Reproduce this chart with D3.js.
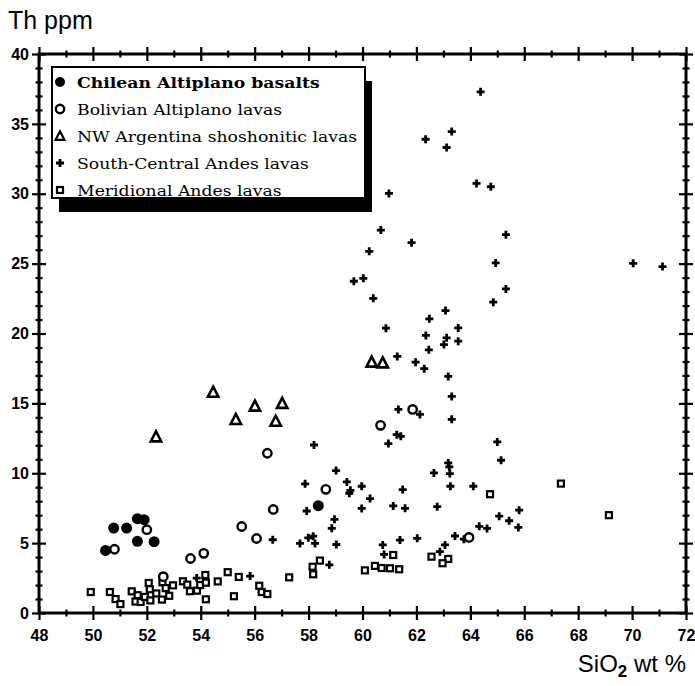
<!DOCTYPE html>
<html>
<head>
<meta charset="utf-8">
<script src="https://cdn.jsdelivr.net/npm/d3@7"></script>
<style>
  body { margin: 0; background: #fff; }
  svg { display: block; }
</style>
</head>
<body>
<div id="chart"></div>
<script>
// values: [SiO2 wt %, Th ppm]
const chilean = [
  [50.47, 4.48], [50.77, 6.08], [51.25, 6.08], [51.65, 6.75], [51.9, 6.68],
  [51.65, 5.13], [52.27, 5.1], [58.36, 7.68]
];
const bolivian = [
  [50.8, 4.56], [52.0, 5.96], [52.61, 2.6], [53.62, 3.9], [54.11, 4.27],
  [55.52, 6.19], [56.07, 5.33], [56.47, 11.43], [56.69, 7.41], [58.64, 8.85],
  [60.67, 13.43], [61.86, 14.57], [63.95, 5.41]
];
const nwArgentina = [
  [52.34, 12.6], [54.46, 15.8], [55.3, 13.85], [56.01, 14.8], [56.78, 13.72],
  [57.02, 15.0], [60.34, 17.95], [60.75, 17.9]
];
const southCentral = [
  [53.85, 2.5], [55.83, 2.64], [56.67, 5.24], [57.68, 4.98], [57.87, 9.24],
  [57.93, 7.3], [57.99, 5.38], [58.17, 5.5], [58.2, 12.02], [58.24, 4.98],
  [58.77, 3.45], [58.86, 6.06], [58.96, 6.7], [59.02, 10.19], [59.03, 4.9],
  [59.42, 9.38], [59.51, 8.57], [59.55, 8.78], [59.68, 23.74], [59.97, 9.07],
  [59.97, 7.48], [60.03, 23.95], [60.25, 25.88], [60.28, 8.19], [60.4, 22.52],
  [60.68, 27.4], [60.75, 4.87], [60.8, 4.19], [60.87, 20.38], [60.96, 12.12],
  [60.98, 30.02], [61.14, 7.66], [61.27, 12.76], [61.29, 18.36], [61.33, 14.57],
  [61.39, 5.22], [61.42, 12.64], [61.49, 8.83], [61.58, 7.49], [61.82, 26.5],
  [61.97, 17.95], [62.03, 5.34], [62.13, 14.21], [62.29, 17.48], [62.34, 33.9],
  [62.35, 19.86], [62.46, 18.83], [62.48, 21.05], [62.65, 10.02], [62.77, 7.61],
  [62.87, 4.39], [63.06, 4.87], [63.02, 19.21], [63.08, 21.64], [63.12, 19.69],
  [63.12, 33.31], [63.18, 10.74], [63.22, 10.45], [63.18, 16.93], [63.24, 9.98],
  [63.26, 9.07], [63.31, 13.86], [63.31, 15.5], [63.31, 34.45], [63.43, 5.51],
  [63.55, 20.4], [63.55, 19.45], [63.76, 5.28], [64.11, 9.07], [64.23, 30.74],
  [64.33, 6.2], [64.38, 37.29], [64.62, 6.05], [64.76, 30.5], [64.85, 22.24],
  [64.94, 25.05], [65.0, 12.24], [65.07, 6.93], [65.14, 10.93], [65.32, 27.07],
  [65.32, 23.19], [65.44, 6.6], [65.78, 6.12], [65.81, 7.36], [70.04, 25.02],
  [71.13, 24.79]
];
const meridional = [
  [49.92, 1.5], [50.63, 1.5], [50.84, 1.0], [51.02, 0.64], [51.44, 1.55],
  [51.66, 1.27], [51.58, 0.82], [51.77, 0.79], [51.93, 1.15], [52.07, 2.15],
  [52.11, 1.7], [52.13, 0.9], [52.35, 1.4], [52.56, 0.96], [52.58, 2.2],
  [52.7, 1.78], [52.83, 1.23], [52.97, 1.98], [53.34, 2.27], [53.5, 2.03],
  [53.6, 1.56], [53.86, 1.6], [53.98, 2.0], [54.17, 2.72], [54.19, 2.17],
  [54.19, 0.98], [54.63, 2.26], [55.0, 2.92], [55.23, 1.2], [55.41, 2.58],
  [56.17, 1.95], [56.26, 1.5], [56.47, 1.36], [57.28, 2.55], [58.15, 3.31],
  [58.17, 2.77], [58.42, 3.75], [60.09, 3.05], [60.46, 3.37], [60.71, 3.22],
  [61.02, 3.2], [61.36, 3.13], [61.14, 4.15], [62.56, 4.03], [63.18, 3.87],
  [62.97, 3.56], [64.73, 8.5], [67.36, 9.26], [69.14, 7.0]
];
const legendLabels = [
  'Chilean Altiplano basalts',
  'Bolivian Altiplano lavas',
  'NW Argentina shoshonitic lavas',
  'South-Central Andes lavas',
  'Meridional Andes lavas'
];
const xMajor = d3.range(48, 73, 2);
const xMinor = d3.range(49, 72, 2);
const yMajor = d3.range(0, 41, 5);
const yMinor = d3.range(1, 40).filter(v => v % 5 !== 0);

const W = 695, H = 686;
const plot = { left: 39, right: 686, top: 54, bottom: 613 };

const svg = d3.select('#chart').append('svg')
  .attr('width', W).attr('height', H);

const x = d3.scaleLinear().domain([48, 72]).range([plot.left, plot.right]);
const y = d3.scaleLinear().domain([0, 40]).range([plot.bottom, plot.top]);

// frame
svg.append('rect')
  .attr('x', plot.left).attr('y', plot.top)
  .attr('width', plot.right - plot.left).attr('height', plot.bottom - plot.top)
  .attr('fill', 'none').attr('stroke', '#000').attr('stroke-width', 3);

// axes: ticks cross the frame line on both sides
function crossTicks(g, len, horizontal) {
  g.select('.domain').remove();
  g.selectAll('.tick line')
    .attr('stroke', '#000').attr('stroke-width', 2.2)
    .attr(horizontal ? 'y1' : 'x1', -len).attr(horizontal ? 'y2' : 'x2', len);
}

const bottomMajor = svg.append('g').attr('transform', `translate(0,${plot.bottom})`)
  .call(d3.axisBottom(x).tickValues(xMajor).tickSize(6).tickPadding(11).tickFormat(d3.format('d')));
crossTicks(bottomMajor, 7, true);
const bottomMinor = svg.append('g').attr('transform', `translate(0,${plot.bottom})`)
  .call(d3.axisBottom(x).tickValues(xMinor).tickFormat(''));
crossTicks(bottomMinor, 3.5, true);

const topMajor = svg.append('g').attr('transform', `translate(0,${plot.top})`)
  .call(d3.axisTop(x).tickValues(xMajor).tickFormat(''));
crossTicks(topMajor, 7, true);
const topMinor = svg.append('g').attr('transform', `translate(0,${plot.top})`)
  .call(d3.axisTop(x).tickValues(xMinor).tickFormat(''));
crossTicks(topMinor, 3.5, true);

const leftMajor = svg.append('g').attr('transform', `translate(${plot.left},0)`)
  .call(d3.axisLeft(y).tickValues(yMajor).tickSize(6).tickPadding(4).tickFormat(d3.format('d')));
crossTicks(leftMajor, 7, false);
const leftMinor = svg.append('g').attr('transform', `translate(${plot.left},0)`)
  .call(d3.axisLeft(y).tickValues(yMinor).tickFormat(''));
crossTicks(leftMinor, 3.5, false);

const rightMajor = svg.append('g').attr('transform', `translate(${plot.right},0)`)
  .call(d3.axisRight(y).tickValues(yMajor).tickFormat(''));
crossTicks(rightMajor, 7, false);
const rightMinor = svg.append('g').attr('transform', `translate(${plot.right},0)`)
  .call(d3.axisRight(y).tickValues(yMinor).tickFormat(''));
crossTicks(rightMinor, 3.5, false);

svg.selectAll('.tick text')
  .style('font-family', '"Liberation Sans Narrow", "Liberation Sans", Arial, sans-serif')
  .style('font-weight', 'bold')
  .style('font-size', '16px')
  .attr('fill', '#000');

// axis titles
svg.append('text')
  .attr('x', 8).attr('y', 29)
  .style('font-family', '"Liberation Sans", Arial, sans-serif')
  .style('font-size', '25px')
  .text('Th ppm');

const xTitle = svg.append('text')
  .attr('x', 686).attr('y', 672)
  .attr('text-anchor', 'end')
  .style('font-family', '"Liberation Sans", Arial, sans-serif')
  .style('font-size', '24px');
xTitle.append('tspan').text('SiO');
xTitle.append('tspan').attr('dy', 5).style('font-size', '17px').style('font-weight', 'bold').text('2');
xTitle.append('tspan').attr('dy', -5).text(' wt %');

// marker drawers
const sym = {
  filled: (g) => g.append('circle').attr('r', 5.5).attr('fill', '#000'),
  open: (g) => g.append('circle').attr('r', 4.2).attr('fill', '#fff').attr('stroke', '#000').attr('stroke-width', 2.4),
  tri: (g) => g.append('path').attr('d', 'M0,-5.5 L5.2,4.5 L-5.2,4.5 Z').attr('fill', '#fff')
    .attr('stroke', '#000').attr('stroke-width', 2.6).attr('stroke-linejoin', 'miter'),
  cross: (g) => g.append('path').attr('d', 'M-4,0 H4 M0,-4 V4')
    .attr('stroke', '#000').attr('stroke-width', 2.8).attr('fill', 'none'),
  square: (g) => g.append('rect').attr('x', -3).attr('y', -3).attr('width', 6).attr('height', 6)
    .attr('fill', '#fff').attr('stroke', '#000').attr('stroke-width', 2.2)
};

function drawSeries(data, kind) {
  svg.append('g').selectAll('g')
    .data(data)
    .enter()
    .append('g')
    .attr('transform', d => `translate(${x(d[0])},${y(d[1])})`)
    .each(function() { sym[kind](d3.select(this)); });
}

drawSeries(meridional, 'square');
drawSeries(southCentral, 'cross');
drawSeries(nwArgentina, 'tri');
drawSeries(bolivian, 'open');
drawSeries(chilean, 'filled');

// legend with drop shadow
const lg = { x: 52, y: 67, w: 313, h: 131 };
svg.append('rect')
  .attr('x', lg.x + 7).attr('y', lg.y + 14)
  .attr('width', lg.w).attr('height', lg.h)
  .attr('fill', '#000');
svg.append('rect')
  .attr('x', lg.x).attr('y', lg.y)
  .attr('width', lg.w).attr('height', lg.h)
  .attr('fill', '#fff').attr('stroke', '#000').attr('stroke-width', 2);

const kinds = ['filled', 'open', 'tri', 'cross', 'square'];
const rowY = d3.scalePoint().domain(d3.range(5)).range([82, 190]);
legendLabels.forEach((label, i) => {
  const g = svg.append('g').attr('transform', `translate(60,${rowY(i)})`);
  sym[kinds[i]](g);
  if (kinds[i] === 'filled') g.select('circle').attr('r', 5);
  if (kinds[i] === 'tri') g.select('path').attr('transform', 'scale(0.85)');
  g.append('text')
    .attr('transform', 'translate(17,5.5) scale(1.15,1)')
    .style('font-family', '"DejaVu Serif", serif')
    .style('font-size', '15px')
    .style('font-weight', i === 0 ? 'bold' : 'normal')
    .text(label);
});
</script>
</body>
</html>
